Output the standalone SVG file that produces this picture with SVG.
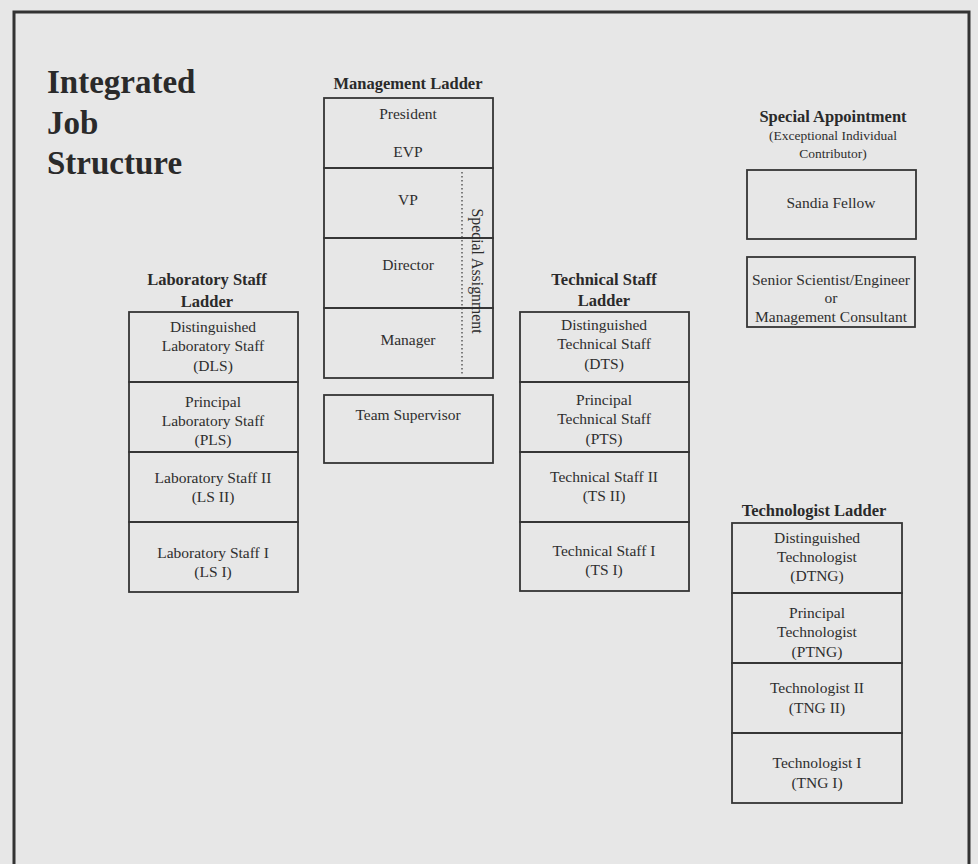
<svg xmlns="http://www.w3.org/2000/svg" width="978" height="864" viewBox="0 0 978 864">
<style>
  .box { fill: none; stroke: #353535; stroke-width: 1.8; }
  .t { font-family: "Liberation Serif", "Times New Roman", serif; font-size: 15.5px; fill: #2e2e2e; text-anchor: middle; }
  .h { font-family: "Liberation Serif", "Times New Roman", serif; font-size: 16.5px; font-weight: bold; fill: #2a2a2a; text-anchor: middle; }
  .s { font-family: "Liberation Serif", "Times New Roman", serif; font-size: 13.5px; fill: #2e2e2e; text-anchor: middle; }
  .title { font-family: "Liberation Serif", "Times New Roman", serif; font-size: 33px; font-weight: bold; fill: #2a2a2a; }
</style>
<rect x="0" y="0" width="978" height="864" fill="#e7e7e7"/>
<path d="M14 864 V12 H969 V864" fill="none" stroke="#333" stroke-width="3"/>

<g id="title">
  <text class="title" x="47" y="93">Integrated</text>
  <text class="title" x="47" y="134">Job</text>
  <text class="title" x="47" y="174">Structure</text>
</g>

<g id="management-ladder">
  <text class="h" x="408" y="89">Management Ladder</text>
  <g id="president-evp">
    <rect class="box" x="324" y="98" width="169" height="70"/>
    <text class="t" x="408" y="119">President</text>
    <text class="t" x="408" y="157">EVP</text>
  </g>
  <g id="vp">
    <rect class="box" x="324" y="168" width="169" height="70"/>
    <text class="t" x="408" y="205">VP</text>
  </g>
  <g id="director">
    <rect class="box" x="324" y="238" width="169" height="70"/>
    <text class="t" x="408" y="270">Director</text>
  </g>
  <g id="manager">
    <rect class="box" x="324" y="308" width="169" height="70"/>
    <text class="t" x="408" y="345">Manager</text>
  </g>
  <g id="special-assignment">
    <line x1="462" y1="172" x2="462" y2="376" stroke="#444" stroke-width="1.3" stroke-dasharray="1.5 2.5"/>
    <text class="t" x="0" y="0" transform="translate(472 271) rotate(90)" style="font-size:15.8px">Special Assignment</text>
  </g>
  <g id="team-supervisor">
    <rect class="box" x="324" y="395" width="169" height="68"/>
    <text class="t" x="408" y="420">Team Supervisor</text>
  </g>
</g>

<g id="laboratory-ladder">
  <text class="h" x="207" y="285">Laboratory Staff</text>
  <text class="h" x="207" y="307">Ladder</text>
  <g id="dls">
    <rect class="box" x="129" y="312" width="169" height="70"/>
    <text class="t" x="213" y="332">Distinguished</text>
    <text class="t" x="213" y="351">Laboratory Staff</text>
    <text class="t" x="213" y="371">(DLS)</text>
  </g>
  <g id="pls">
    <rect class="box" x="129" y="382" width="169" height="70"/>
    <text class="t" x="213" y="407">Principal</text>
    <text class="t" x="213" y="426">Laboratory Staff</text>
    <text class="t" x="213" y="445">(PLS)</text>
  </g>
  <g id="ls2">
    <rect class="box" x="129" y="452" width="169" height="70"/>
    <text class="t" x="213" y="483">Laboratory Staff II</text>
    <text class="t" x="213" y="502">(LS II)</text>
  </g>
  <g id="ls1">
    <rect class="box" x="129" y="522" width="169" height="70"/>
    <text class="t" x="213" y="558">Laboratory Staff I</text>
    <text class="t" x="213" y="577">(LS I)</text>
  </g>
</g>

<g id="technical-ladder">
  <text class="h" x="604" y="285">Technical Staff</text>
  <text class="h" x="604" y="306">Ladder</text>
  <g id="dts">
    <rect class="box" x="520" y="312" width="169" height="70"/>
    <text class="t" x="604" y="330">Distinguished</text>
    <text class="t" x="604" y="349">Technical Staff</text>
    <text class="t" x="604" y="369">(DTS)</text>
  </g>
  <g id="pts">
    <rect class="box" x="520" y="382" width="169" height="70"/>
    <text class="t" x="604" y="405">Principal</text>
    <text class="t" x="604" y="424">Technical Staff</text>
    <text class="t" x="604" y="444">(PTS)</text>
  </g>
  <g id="ts2">
    <rect class="box" x="520" y="452" width="169" height="70"/>
    <text class="t" x="604" y="482">Technical Staff II</text>
    <text class="t" x="604" y="501">(TS II)</text>
  </g>
  <g id="ts1">
    <rect class="box" x="520" y="522" width="169" height="69"/>
    <text class="t" x="604" y="556">Technical Staff I</text>
    <text class="t" x="604" y="575">(TS I)</text>
  </g>
</g>

<g id="special-appointment">
  <text class="h" x="833" y="122">Special Appointment</text>
  <text class="s" x="833" y="139.5">(Exceptional Individual</text>
  <text class="s" x="833" y="157.5">Contributor)</text>
  <g id="sandia-fellow">
    <rect class="box" x="747" y="170" width="169" height="69"/>
    <text class="t" x="831" y="208">Sandia Fellow</text>
  </g>
  <g id="senior-scientist">
    <rect class="box" x="747" y="257" width="168" height="70"/>
    <text class="t" x="831" y="285">Senior Scientist/Engineer</text>
    <text class="t" x="831" y="303">or</text>
    <text class="t" x="831" y="322">Management Consultant</text>
  </g>
</g>

<g id="technologist-ladder">
  <text class="h" x="814" y="516">Technologist Ladder</text>
  <g id="dtng">
    <rect class="box" x="732" y="523" width="170" height="70"/>
    <text class="t" x="817" y="543">Distinguished</text>
    <text class="t" x="817" y="562">Technologist</text>
    <text class="t" x="817" y="581">(DTNG)</text>
  </g>
  <g id="ptng">
    <rect class="box" x="732" y="593" width="170" height="70"/>
    <text class="t" x="817" y="618">Principal</text>
    <text class="t" x="817" y="637">Technologist</text>
    <text class="t" x="817" y="657">(PTNG)</text>
  </g>
  <g id="tng2">
    <rect class="box" x="732" y="663" width="170" height="70"/>
    <text class="t" x="817" y="693">Technologist II</text>
    <text class="t" x="817" y="713">(TNG II)</text>
  </g>
  <g id="tng1">
    <rect class="box" x="732" y="733" width="170" height="70"/>
    <text class="t" x="817" y="768">Technologist I</text>
    <text class="t" x="817" y="788">(TNG I)</text>
  </g>
</g>
<g id="connectors"/>
</svg>
